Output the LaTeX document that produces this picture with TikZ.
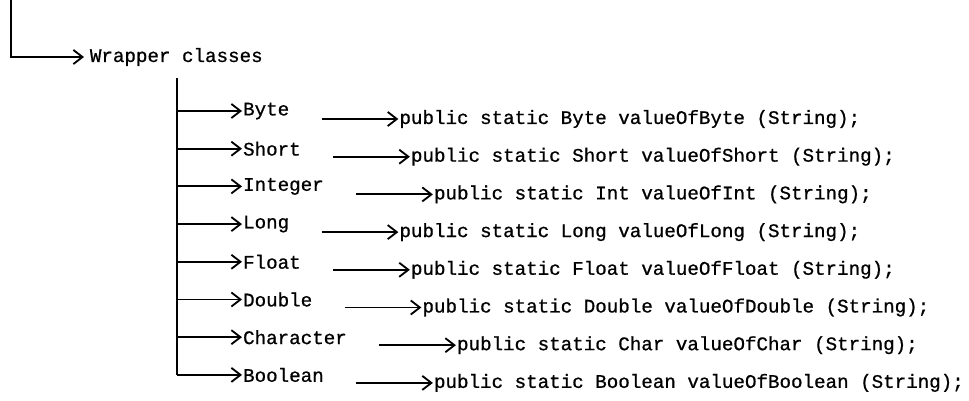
\documentclass[tikz,border=0pt]{standalone}
\usepackage{fontspec}
\setmonofont[FakeBold=0.8]{Liberation Mono}
\usetikzlibrary{arrows.meta,positioning}

\begin{document}
\begin{tikzpicture}[
  x=0.025cm,
  y=-0.025cm,
  font=\ttfamily\fontsize{13.65}{16}\selectfont,
  link/.style={line width=1.4pt, -{Straight Barb[length=6.5pt,width=10pt,line width=1.3pt]}},
  trunk/.style={line width=1.5pt},
  cls/.style={anchor=west, inner sep=0.6pt},
  meth/.style={anchor=west, inner sep=0.6pt}
]
  \useasboundingbox (0,0) rectangle (969,401);

  % top level
  \coordinate (root) at (11,0);
  \node[anchor=west, inner xsep=4pt, inner ysep=1pt] (wrap) at (84,57) {Wrapper classes};
  \draw[link] (root) |- (wrap.west);

  % wrapper types and their valueOf methods
  \coordinate (stem) at (177,78);
  \foreach \name/\call [count=\i from 1] in {
      Byte/{public static Byte valueOfByte (String);},
      Short/{public static Short valueOfShort (String);},
      Integer/{public static Int valueOfInt (String);},
      Long/{public static Long valueOfLong (String);},
      Float/{public static Float valueOfFloat (String);},
      Double/{public static Double valueOfDouble (String);},
      Character/{public static Char valueOfChar (String);},
      Boolean/{public static Boolean valueOfBoolean (String);}} {
    \pgfmathsetmacro{\y}{111+37.7*(\i-1)}
    \node[cls] (c\i) at (242,\y) {\name};
    \node[meth, right=2.7cm of c\i.east, yshift=-0.2cm, anchor=west] (m\i) {\call};
    \draw[link] (stem |- c\i.west) -- (c\i.west);
    \draw[link] ([xshift=0.78cm]c\i.east |- m\i.west) -- (m\i.west);
  }
  \draw[trunk] (stem) -- (stem |- c8.west);
\end{tikzpicture}
\end{document}
